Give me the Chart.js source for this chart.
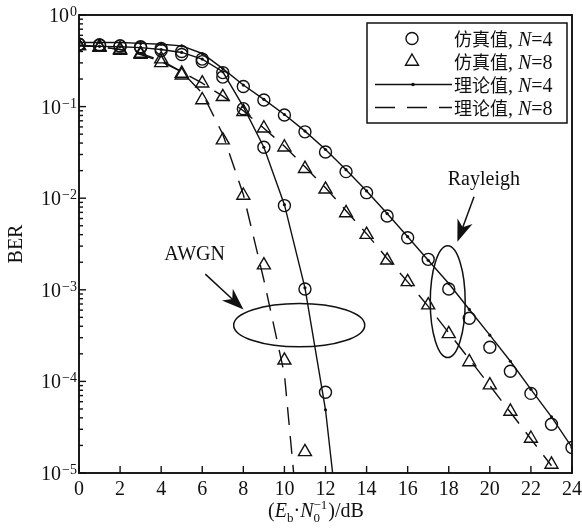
<!DOCTYPE html>
<html>
<head>
<meta charset="utf-8">
<script src="https://cdn.jsdelivr.net/npm/chart.js@4.4.1/dist/chart.umd.min.js"></script>
<style>
  html, body { margin: 0; padding: 0; background: #fff; }
  #wrap { width: 582px; height: 529px; }
</style>
</head>
<body>
<div id="wrap"><canvas id="berChart" width="582" height="529"></canvas></div>
<script>
// Eb/N0 in dB
const snrDb = [0, 1, 2, 3, 4, 5, 6, 7, 8, 9, 10, 11, 12, 13, 14, 15, 16, 17, 18, 19, 20, 21, 22, 23, 24];

// simulated BER (open markers)
const simAwgnN4 = [0.48, 0.47, 0.46, 0.45, 0.43, 0.40, 0.33, 0.21, 0.095, 0.036, 0.0083, 0.00102, 7.6e-5];
const simAwgnN8 = [0.46, 0.45, 0.42, 0.38, 0.33, 0.22, 0.118, 0.043, 0.0107, 0.00186, 1.7e-4, 1.7e-5];
const simRayN4 = [0.48, 0.47, 0.46, 0.44, 0.41, 0.37, 0.31, 0.235, 0.166, 0.118, 0.081, 0.053, 0.032, 0.0195,
  0.0115, 0.0064, 0.0037, 0.00215, 0.00102, 4.9e-4, 2.36e-4, 1.29e-4, 7.4e-5, 3.4e-5, 1.9e-5];
const simRayN8 = [0.46, 0.44, 0.41, 0.37, 0.30, 0.23, 0.18, 0.128, 0.088, 0.058, 0.036, 0.021, 0.0125, 0.0069,
  0.0040, 0.0021, 0.00122, 6.8e-4, 3.3e-4, 1.63e-4, 9.1e-5, 4.7e-5, 2.38e-5, 1.24e-5];

// theoretical BER (lines)
const theoAwgnN4 = [0.46, 0.455, 0.45, 0.44, 0.42, 0.39, 0.33, 0.24, 0.10, 0.036, 0.0085, 0.00105, 4.9e-5, 5e-7];
const theoAwgnN8 = [0.46, 0.45, 0.42, 0.38, 0.32, 0.24, 0.14, 0.05, 0.011, 0.00128, 1.2e-4, 4.8e-7];
const theoRayN4 = [0.5, 0.5, 0.5, 0.49, 0.48, 0.46, 0.38, 0.26, 0.172, 0.12, 0.082, 0.054, 0.034, 0.0205,
  0.012, 0.0068, 0.0038, 0.0021, 0.00117, 6.1e-4, 3.2e-4, 1.66e-4, 8.2e-5, 4.1e-5, 1.9e-5];
const theoRayN8 = [0.47, 0.45, 0.42, 0.37, 0.31, 0.24, 0.18, 0.13, 0.09, 0.058, 0.037, 0.022, 0.013, 0.0073,
  0.0041, 0.0022, 0.00122, 6.6e-4, 3.4e-4, 1.75e-4, 9.0e-5, 4.6e-5, 2.35e-5, 1.2e-5];

// legend / axis text
const legendNames = ['仿真值', '仿真值', '理论值', '理论值'];
const legendN = [4, 8, 4, 8];
const xTickValues = [0, 2, 4, 6, 8, 10, 12, 14, 16, 18, 20, 22, 24];
const yExponents = [0, -1, -2, -3, -4, -5];

const serif = '"Liberation Serif", "Times New Roman", serif';
const cjk = '"Noto Sans CJK SC", sans-serif';
const ink = '#111';

const pts = ys => ys.map((y, i) => ({ x: snrDb[i], y: y }));

function simSet(ys, style, r) {
  return { data: pts(ys), showLine: false, pointStyle: style, pointRadius: r,
    borderColor: ink, backgroundColor: 'rgba(0,0,0,0)', pointBorderWidth: 1.4 };
}
function theoSet(ys, dashed) {
  return { data: pts(ys), borderColor: ink, borderWidth: 1.4, tension: 0,
    borderDash: dashed ? [18, 11] : [], pointRadius: dashed ? 0 : 1.6,
    pointBackgroundColor: ink, pointBorderWidth: 0 };
}

// draw a run of text pieces, returns end x
function drawPieces(ctx, x, y, pieces, measureOnly) {
  for (const p of pieces) {
    ctx.font = p.font;
    const w = ctx.measureText(p.t).width;
    if (!measureOnly) ctx.fillText(p.t, x, y + (p.dy || 0));
    x += p.adv !== undefined ? p.adv : w;
  }
  return x;
}

const decorPlugin = {
  id: 'decor',
  afterDraw(chart) {
    const ctx = chart.ctx;
    const a = chart.chartArea;
    const xs = chart.scales.x, ys = chart.scales.y;
    const X = v => xs.getPixelForValue(v);
    const Y = v => ys.getPixelForValue(v);
    ctx.save();
    ctx.strokeStyle = ink;
    ctx.fillStyle = ink;

    // frame
    ctx.lineWidth = 1.9;
    ctx.strokeRect(a.left, a.top, a.right - a.left, a.bottom - a.top);

    // x ticks (inward)
    ctx.lineWidth = 1.4;
    ctx.textAlign = 'center';
    ctx.textBaseline = 'alphabetic';
    ctx.font = '20px ' + serif;
    xTickValues.forEach(v => {
      const px = X(v);
      ctx.beginPath(); ctx.moveTo(px, a.bottom); ctx.lineTo(px, a.bottom - 7); ctx.stroke();
      ctx.fillText(String(v), px, a.bottom + 22);
    });

    // y ticks, major + minor
    yExponents.forEach(e => {
      const py = Y(Math.pow(10, e));
      ctx.beginPath(); ctx.moveTo(a.left, py); ctx.lineTo(a.left + 7, py); ctx.stroke();
      const sup = e === 0 ? '0' : '\u2212' + String(-e);
      ctx.textAlign = 'right';
      ctx.font = '14px ' + serif;
      const sw = ctx.measureText(sup).width;
      ctx.fillText(sup, a.left - 2, py + 1);
      ctx.font = '20px ' + serif;
      ctx.fillText('10', a.left - 3 - sw, py + 7);
      if (e > -5) {
        for (let m = 2; m <= 9; m++) {
          const pm = Y(m * Math.pow(10, e - 1));
          ctx.beginPath(); ctx.moveTo(a.left, pm); ctx.lineTo(a.left + 4, pm); ctx.stroke();
        }
      }
    });

    // y title
    ctx.save();
    ctx.translate(22, (a.top + a.bottom) / 2);
    ctx.rotate(-Math.PI / 2);
    ctx.textAlign = 'center';
    ctx.font = '20px ' + serif;
    ctx.fillText('BER', 0, 0);
    ctx.restore();

    // x title: (Eb·N0^-1)/dB
    ctx.textAlign = 'left';
    const big = '20px ' + serif, bigI = 'italic 20px ' + serif, sm = '13px ' + serif;
    ctx.font = sm;
    const supW = ctx.measureText('\u22121').width;
    const title = [
      { t: '(', font: big }, { t: 'E', font: bigI }, { t: 'b', font: sm, dy: 5 },
      { t: '\u00b7', font: big }, { t: 'N', font: bigI }, { t: '0', font: sm, dy: 5, adv: 0 },
      { t: '\u22121', font: sm, dy: -8, adv: supW + 1 }, { t: ')/dB', font: big }
    ];
    const tw = drawPieces(ctx, 0, 0, title, true);
    drawPieces(ctx, 316 - tw / 2, 517, title, false);

    // annotations (data units)
    ctx.lineWidth = 1.5;
    const ellipse = (cx, cLog, rxDb, ryDec) => {
      const px = X(cx), py = Y(Math.pow(10, cLog));
      const rx = X(cx + rxDb) - px, ry = py - Y(Math.pow(10, cLog + ryDec));
      ctx.beginPath(); ctx.ellipse(px, py, rx, ry, 0, 0, Math.PI * 2); ctx.stroke();
    };
    const arrow = (x0, l0, x1, l1) => {
      const ax = X(x0), ay = Y(Math.pow(10, l0)), bx = X(x1), by = Y(Math.pow(10, l1));
      const ang = Math.atan2(by - ay, bx - ax);
      const L = 22, W = 8;
      const ux = Math.cos(ang), uy = Math.sin(ang);
      ctx.beginPath(); ctx.moveTo(ax, ay); ctx.lineTo(bx - ux * 10, by - uy * 10); ctx.stroke();
      ctx.beginPath();
      ctx.moveTo(bx, by);
      ctx.lineTo(bx - ux * L - uy * W, by - uy * L + ux * W);
      ctx.lineTo(bx - ux * L * 0.7, by - uy * L * 0.7);
      ctx.lineTo(bx - ux * L + uy * W, by - uy * L - ux * W);
      ctx.closePath(); ctx.fill();
    };
    ellipse(10.72, -3.386, 3.19, 0.237);
    ellipse(17.95, -3.13, 0.85, 0.61);
    arrow(6.15, -2.829, 8.01, -3.215);
    arrow(19.23, -1.985, 18.42, -2.476);
    ctx.font = '20px ' + serif;
    ctx.textAlign = 'center';
    ctx.fillText('AWGN', X(5.63), Y(Math.pow(10, -2.676)));
    ctx.fillText('Rayleigh', X(19.71), Y(Math.pow(10, -1.857)));

    // legend
    const bx = a.right - 205, by = a.top + 8, bw = 200, bh = 100;
    ctx.fillStyle = '#fff';
    ctx.fillRect(bx, by, bw, bh);
    ctx.fillStyle = ink;
    ctx.lineWidth = 1.5;
    ctx.strokeRect(bx, by, bw, bh);
    const order = [0, 1, 2, 3];
    order.forEach(i => {
      const cy = by + 15.5 + i * 23;
      const ds = chart.data.datasets[i];
      const sx = bx + 45;
      ctx.save();
      ctx.lineWidth = 1.4;
      if (ds.showLine === false) {
        ctx.beginPath();
        if (ds.pointStyle === 'circle') {
          ctx.arc(sx, cy, ds.pointRadius, 0, Math.PI * 2);
        } else {
          const r = ds.pointRadius;
          ctx.moveTo(sx, cy - r); ctx.lineTo(sx + r * 0.866, cy + r * 0.5); ctx.lineTo(sx - r * 0.866, cy + r * 0.5);
          ctx.closePath();
        }
        ctx.stroke();
      } else {
        ctx.setLineDash(ds.borderDash.length ? [20, 12] : []);
        ctx.beginPath(); ctx.moveTo(bx + 8, cy); ctx.lineTo(bx + 85, cy); ctx.stroke();
        ctx.setLineDash([]);
        if (ds.pointRadius > 0) { ctx.beginPath(); ctx.arc(sx + 1, cy, 1.8, 0, Math.PI * 2); ctx.fill(); }
      }
      ctx.restore();
      ctx.textAlign = 'left';
      drawPieces(ctx, bx + 87, cy + 7, [
        { t: legendNames[i], font: '18px ' + cjk },
        { t: ', ', font: big }, { t: 'N', font: bigI }, { t: '=' + legendN[i], font: big }
      ], false);
    });
    ctx.restore();
  }
};

new Chart(document.getElementById('berChart'), {
  type: 'line',
  data: {
    datasets: [
      // first four feed the legend: sim N=4, sim N=8, theory N=4, theory N=8
      simSet(simAwgnN4, 'circle', 6),
      simSet(simAwgnN8, 'triangle', 7.5),
      theoSet(theoAwgnN4, false),
      theoSet(theoAwgnN8, true),
      simSet(simRayN4, 'circle', 6),
      simSet(simRayN8, 'triangle', 7.5),
      theoSet(theoRayN4, false),
      theoSet(theoRayN8, true)
    ]
  },
  options: {
    responsive: false,
    devicePixelRatio: 1,
    animation: false,
    layout: { padding: { top: 15, right: 10, left: 0, bottom: 0 } },
    plugins: { legend: { display: false }, tooltip: { enabled: false } },
    scales: {
      x: {
        type: 'linear', min: 0, max: 24,
        grid: { display: false }, border: { display: false }, ticks: { display: false },
        afterFit: s => { s.height = 56; }
      },
      y: {
        type: 'logarithmic', min: 1e-5, max: 1,
        grid: { display: false }, border: { display: false }, ticks: { display: false },
        afterFit: s => { s.width = 79; }
      }
    }
  },
  plugins: [decorPlugin]
});
</script>
</body>
</html>
